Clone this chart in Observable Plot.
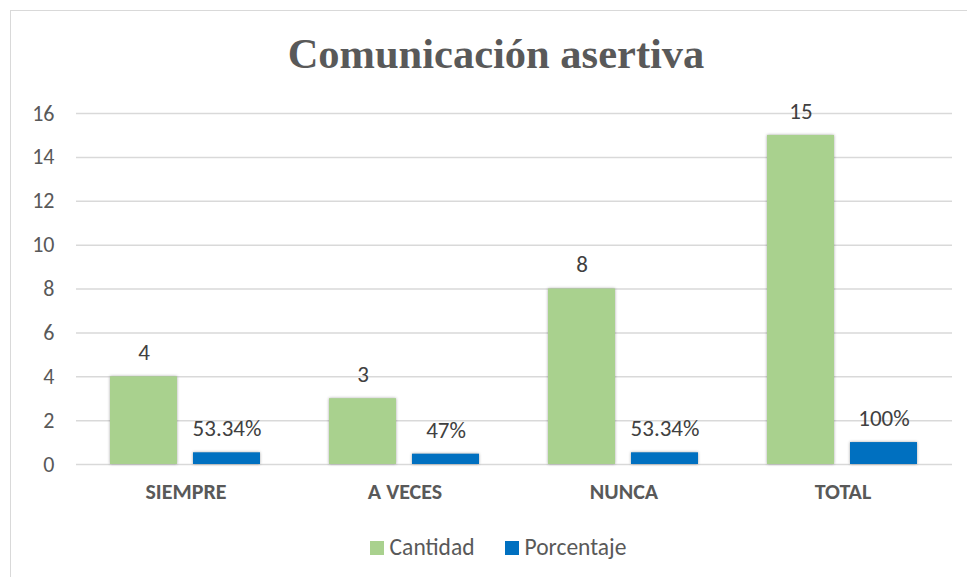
<!DOCTYPE html>
<html><head><meta charset="utf-8">
<script src="https://cdn.jsdelivr.net/npm/d3@7"></script>
<script src="https://cdn.jsdelivr.net/npm/@observablehq/plot@0.6"></script>
<style>
body{margin:0;background:#fff;}
#wrap{position:relative;width:967px;height:577px;overflow:hidden;font-family:Carlito,Lato,"Open Sans",sans-serif;}
#border{position:absolute;left:10px;top:10px;width:970px;height:580px;border:1px solid #d9d9d9;box-sizing:border-box;}
#title{position:absolute;left:0;top:29px;width:992px;text-align:center;font-family:"Liberation Serif","Times New Roman",serif;font-weight:bold;font-size:42.5px;color:#595959;line-height:50px;}
#chart{position:absolute;left:0;top:80px;}
#legend{position:absolute;left:0;top:533px;width:996px;text-align:center;font-size:23.5px;color:#595959;line-height:28px;}
#legend span.sw{display:inline-block;width:14px;height:14px;margin-right:6px;vertical-align:0px;}
#legend span.it{margin:0 15px;}
</style></head>
<body>
<div id="wrap">
<div id="border"></div>
<div id="title">Comunicación asertiva</div>
<div id="chart"></div>
<div id="legend"></div>
</div>
<script>
const categories = ["SIEMPRE", "A VECES", "NUNCA", "TOTAL"];
const series = ["Cantidad", "Porcentaje"];
const cantidad = [4, 3, 8, 15];
const porcentaje = [0.5334, 0.47, 0.5334, 1];
const porcentajeLabels = ["53.34%", "47%", "53.34%", "100%"];
const colors = ["#a9d18e", "#0070c0"];
const yTicks = [0, 2, 4, 6, 8, 10, 12, 14, 16];

const data = [];
categories.forEach((c, i) => {
  data.push({cat: c, serie: series[0], value: cantidad[i], label: String(cantidad[i])});
  data.push({cat: c, serie: series[1], value: porcentaje[i], label: porcentajeLabels[i]});
});

const font = "Carlito, Lato, 'Open Sans', sans-serif";
const plot = Plot.plot({
  width: 967,
  height: 430,
  marginLeft: 74,
  marginRight: 14,
  marginTop: 33,
  marginBottom: 46,
  style: {fontFamily: font, color: "#595959", background: "transparent"},
  fx: {domain: categories, padding: 0, label: null},
  x: {domain: series, paddingInner: 16/84, paddingOuter: 34/84, axis: null},
  y: {domain: [0, 16], ticks: yTicks, label: null},
  color: {domain: series, range: colors},
  marks: [
    Plot.ruleY(yTicks, {y: d => d, stroke: "#d9d9d9", strokeWidth: 1.5}),
    Plot.axisY({ticks: yTicks, tickSize: 0, tickPadding: 22, fontSize: 22, fill: "#595959", label: null}),
    Plot.axisFx({anchor: "bottom", tickSize: 0, tickPadding: 19, fontSize: 22, fontWeight: "bold", fill: "#595959", label: null}),
    Plot.barY(data, {fx: "cat", x: "serie", y: "value", fill: "serie"}),
    Plot.text(data, {fx: "cat", x: "serie", y: "value", text: "label", dy: -24, fontSize: 23, fill: "#404040"})
  ]
});
document.getElementById("chart").appendChild(plot);
plot.querySelectorAll('g[aria-label="bar"] rect').forEach(r => {
  r.style.filter = "drop-shadow(0px 0px 1.5px rgba(0,0,0,0.35))";
});

const legend = document.getElementById("legend");
series.forEach((s, i) => {
  const it = document.createElement("span");
  it.className = "it";
  const sw = document.createElement("span");
  sw.className = "sw";
  sw.style.background = colors[i];
  it.appendChild(sw);
  it.appendChild(document.createTextNode(s));
  legend.appendChild(it);
});
</script>
</body></html>
